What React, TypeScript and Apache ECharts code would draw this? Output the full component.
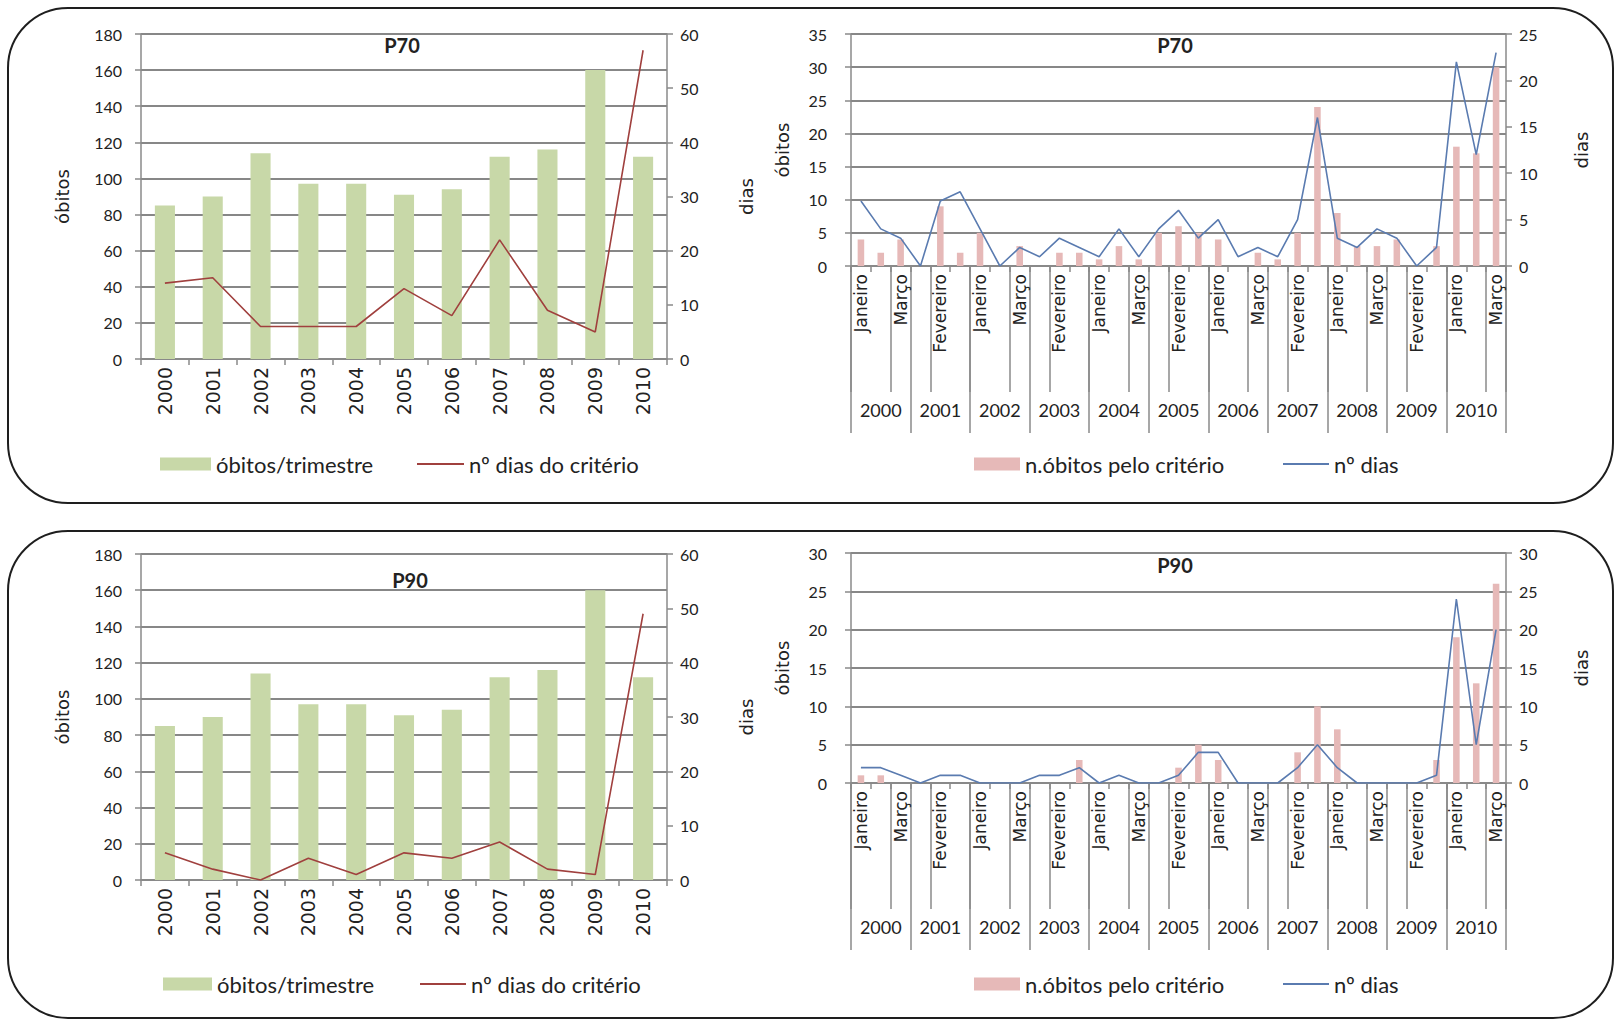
import React, { useEffect, useRef } from 'react';
import * as echarts from 'echarts';

// ---------- data ----------
const years = ['2000', '2001', '2002', '2003', '2004', '2005', '2006', '2007', '2008', '2009', '2010'];
const monthNames = ['Janeiro', 'Fevereiro', 'Março'];

// óbitos/trimestre (left charts, left axis)
const obitosTrimestre = [85, 90, 114, 97, 97, 91, 94, 112, 116, 160, 112];
// nº dias do critério (left charts, right axis)
const diasCriterioP70 = [14, 15, 6, 6, 6, 13, 8, 22, 9, 5, 57];
const diasCriterioP90 = [5, 2, 0, 4, 1, 5, 4, 7, 2, 1, 49];

// n.óbitos pelo critério (right charts, left axis), Jan/Fev/Mar of each year
const obitosCriterioP70 = [4, 2, 4, 0, 9, 2, 5, 0, 3, 0, 2, 2, 1, 3, 1, 5, 6, 5, 4, 0, 2, 1, 5, 24, 8, 3, 3, 4, 0, 3, 18, 17, 30];
const obitosCriterioP90 = [1, 1, 0, 0, 0, 0, 0, 0, 0, 0, 0, 3, 0, 0, 0, 0, 2, 5, 3, 0, 0, 0, 4, 10, 7, 0, 0, 0, 0, 3, 19, 13, 26];
// nº dias (right charts, right axis)
const diasP70 = [7, 4, 3, 0, 7, 8, 4, 0, 2, 1, 3, 2, 1, 4, 1, 4, 6, 3, 5, 1, 2, 1, 5, 16, 3, 2, 4, 3, 0, 2, 22, 12, 23];
const diasP90 = [2, 2, 1, 0, 1, 1, 0, 0, 0, 1, 1, 2, 0, 1, 0, 0, 1, 4, 4, 0, 0, 0, 2, 5, 2, 0, 0, 0, 0, 1, 24, 5, 20];

const monthKeys = years.flatMap((y) => monthNames.map((m) => `${y}|${m}`));

// ---------- styles ----------
const FONT_H = 'Lato, "Noto Sans", sans-serif';
const FONT_R = '"DejaVu Sans", sans-serif';
const TXT = '#222222';
const GRID_COLOR = '#5f5f5f';
const AXIS_COLOR = '#8a8a8a';
const GREEN = '#c8d8a8';
const PINK = '#e6b9b8';
const RED = '#a0403e';
const BLUE = '#5a7bb0';

const grids = [
  { left: 141, top: 34, width: 526, height: 325 },
  { left: 851, top: 34, width: 655, height: 232 },
  { left: 141, top: 554, width: 526, height: 326 },
  { left: 851, top: 553, width: 655, height: 230 },
];

function yAxis(
  gridIndex: number,
  max: number,
  interval: number,
  position: string,
  name: string,
  split: boolean,
  nameGap: number,
  labelMargin: number
) {
  return {
    type: 'value',
    gridIndex,
    position,
    min: 0,
    max,
    interval,
    name,
    nameLocation: 'middle',
    nameGap,
    nameRotate: 90,
    nameTextStyle: { fontFamily: FONT_R, fontSize: 18, color: TXT },
    axisLine: { show: true, lineStyle: { color: AXIS_COLOR, width: 1.5 } },
    axisTick: { show: true, length: 6, lineStyle: { color: AXIS_COLOR, width: 1.5 } },
    axisLabel: { fontFamily: FONT_H, fontSize: 16, color: TXT, margin: labelMargin },
    splitLine: { show: split, lineStyle: { color: GRID_COLOR, width: 1.5 } },
  };
}

function yearAxis(gridIndex: number) {
  return {
    type: 'category',
    gridIndex,
    position: 'bottom',
    data: years,
    axisLine: { show: true, lineStyle: { color: AXIS_COLOR, width: 1.5 } },
    axisTick: { show: true, length: 6, lineStyle: { color: AXIS_COLOR, width: 1.5 } },
    axisLabel: { rotate: 90, interval: 0, fontFamily: FONT_R, fontSize: 19, color: TXT, margin: 8 },
    splitLine: { show: false },
  };
}

function monthAxes(gridIndex: number) {
  return [
    {
      type: 'category',
      gridIndex,
      position: 'bottom',
      data: monthKeys,
      axisLine: { show: true, lineStyle: { color: AXIS_COLOR, width: 1.5 } },
      axisTick: { show: true, interval: 1, length: 126, lineStyle: { color: AXIS_COLOR, width: 1.5 } },
      axisLabel: {
        rotate: 90,
        interval: 1,
        fontFamily: FONT_R,
        fontSize: 17,
        color: TXT,
        margin: 8,
        formatter: (v: string) => v.split('|')[1],
      },
      splitLine: { show: false },
    },
    {
      type: 'category',
      gridIndex,
      position: 'bottom',
      data: years,
      axisLine: { show: false },
      axisTick: { show: true, interval: 0, length: 167, lineStyle: { color: AXIS_COLOR, width: 1.5 } },
      axisLabel: { interval: 0, fontFamily: FONT_H, fontSize: 18, color: TXT, margin: 135 },
      splitLine: { show: false },
    },
    {
      type: 'category',
      gridIndex,
      position: 'bottom',
      data: monthKeys,
      axisLine: { show: false },
      axisTick: { show: true, interval: 0, length: 6, lineStyle: { color: AXIS_COLOR, width: 1.5 } },
      axisLabel: { show: false },
      splitLine: { show: false },
    },
  ];
}

function titleText(x: number, y: number, text: string) {
  return {
    type: 'text',
    x,
    y,
    silent: true,
    style: {
      text,
      fill: TXT,
      font: `bold 20px ${FONT_H}`,
      textAlign: 'center',
      textVerticalAlign: 'middle',
    },
  };
}

const legendText = { fontFamily: FONT_H, fontSize: 22, color: TXT };

function barLegend(name: string, left: number, centerY: number, width: number) {
  return {
    data: [{ name, icon: 'rect' }],
    left,
    top: centerY - 11,
    itemWidth: width,
    itemHeight: 13,
    textStyle: legendText,
    padding: 0,
  };
}

function lineLegend(name: string, left: number, centerY: number, width: number) {
  return {
    data: [{ name, icon: 'rect' }],
    left,
    top: centerY - 11,
    itemWidth: width,
    itemHeight: 2,
    textStyle: legendText,
    padding: 0,
  };
}

function buildOption() {
  return {
    animation: false,
    backgroundColor: '#ffffff',
    grid: grids,
    xAxis: [
      yearAxis(0), // 0
      ...monthAxes(1), // 1,2,3
      yearAxis(2), // 4
      ...monthAxes(3), // 5,6,7
    ],
    yAxis: [
      yAxis(0, 180, 20, 'left', 'óbitos', true, 70, 19),
      yAxis(0, 60, 10, 'right', 'dias', false, 70, 13),
      yAxis(1, 35, 5, 'left', 'óbitos', true, 60, 24),
      yAxis(1, 25, 5, 'right', 'dias', false, 66, 13),
      yAxis(2, 180, 20, 'left', 'óbitos', true, 70, 19),
      yAxis(2, 60, 10, 'right', 'dias', false, 70, 13),
      yAxis(3, 30, 5, 'left', 'óbitos', true, 60, 24),
      yAxis(3, 30, 5, 'right', 'dias', false, 66, 13),
    ],
    legend: [
      barLegend('óbitos/trimestre', 160, 464, 51),
      lineLegend('nº dias do critério', 417, 464, 47),
      barLegend('n.óbitos pelo critério', 974, 464, 46),
      lineLegend('nº dias', 1283, 464, 46),
      barLegend('óbitos/trimestre', 163, 984, 49),
      lineLegend('nº dias do critério', 420, 984, 46),
      barLegend('n.óbitos pelo critério', 974, 984, 46),
      lineLegend('nº dias', 1283, 984, 46),
    ],
    series: [
      {
        name: 'óbitos/trimestre',
        type: 'bar',
        xAxisIndex: 0,
        yAxisIndex: 0,
        data: obitosTrimestre,
        barWidth: '42%',
        itemStyle: { color: GREEN },
      },
      {
        name: 'nº dias do critério',
        type: 'line',
        xAxisIndex: 0,
        yAxisIndex: 1,
        data: diasCriterioP70,
        symbol: 'none',
        lineStyle: { color: RED, width: 1.6 },
        itemStyle: { color: RED },
      },
      {
        name: 'n.óbitos pelo critério',
        type: 'bar',
        xAxisIndex: 1,
        yAxisIndex: 2,
        data: obitosCriterioP70,
        barWidth: '33%',
        itemStyle: { color: PINK },
      },
      {
        name: 'nº dias',
        type: 'line',
        xAxisIndex: 1,
        yAxisIndex: 3,
        data: diasP70,
        symbol: 'none',
        lineStyle: { color: BLUE, width: 1.6 },
        itemStyle: { color: BLUE },
      },
      {
        name: 'óbitos/trimestre',
        type: 'bar',
        xAxisIndex: 4,
        yAxisIndex: 4,
        data: obitosTrimestre,
        barWidth: '42%',
        itemStyle: { color: GREEN },
      },
      {
        name: 'nº dias do critério',
        type: 'line',
        xAxisIndex: 4,
        yAxisIndex: 5,
        data: diasCriterioP90,
        symbol: 'none',
        lineStyle: { color: RED, width: 1.6 },
        itemStyle: { color: RED },
      },
      {
        name: 'n.óbitos pelo critério',
        type: 'bar',
        xAxisIndex: 5,
        yAxisIndex: 6,
        data: obitosCriterioP90,
        barWidth: '33%',
        itemStyle: { color: PINK },
      },
      {
        name: 'nº dias',
        type: 'line',
        xAxisIndex: 5,
        yAxisIndex: 7,
        data: diasP90,
        symbol: 'none',
        lineStyle: { color: BLUE, width: 1.6 },
        itemStyle: { color: BLUE },
      },
    ],
    graphic: [
      {
        type: 'rect',
        silent: true,
        z: -10,
        shape: { x: 8, y: 8, width: 1605, height: 495, r: 60 },
        style: { fill: 'none', stroke: '#1e1e1e', lineWidth: 2 },
      },
      {
        type: 'rect',
        silent: true,
        z: -10,
        shape: { x: 8, y: 531, width: 1605, height: 487, r: 60 },
        style: { fill: 'none', stroke: '#1e1e1e', lineWidth: 2 },
      },
      titleText(402, 45, 'P70'),
      titleText(1175, 45, 'P70'),
      titleText(410, 580, 'P90'),
      titleText(1175, 565, 'P90'),
    ],
  };
}

export default function App() {
  const ref = useRef<HTMLDivElement | null>(null);
  useEffect(() => {
    document.body.style.margin = '0';
    if (!ref.current) return;
    const chart = echarts.init(ref.current, null, { renderer: 'svg' });
    chart.setOption(buildOption() as any);
    return () => {
      chart.dispose();
    };
  }, []);
  return <div ref={ref} style={{ width: 1616, height: 1022, background: '#fff' }} />;
}
